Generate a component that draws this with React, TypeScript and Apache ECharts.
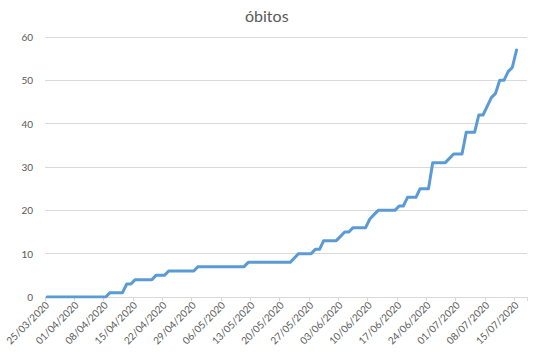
import React, { useEffect, useRef } from "react";
import * as echarts from "echarts";

const titleText = "óbitos";

const dates: string[] = [
  "25/03/2020", "26/03/2020", "27/03/2020", "28/03/2020", "29/03/2020", "30/03/2020", "31/03/2020",
  "01/04/2020", "02/04/2020", "03/04/2020", "04/04/2020", "05/04/2020", "06/04/2020", "07/04/2020",
  "08/04/2020", "09/04/2020", "10/04/2020", "11/04/2020", "12/04/2020", "13/04/2020", "14/04/2020",
  "15/04/2020", "16/04/2020", "17/04/2020", "18/04/2020", "19/04/2020", "20/04/2020", "21/04/2020",
  "22/04/2020", "23/04/2020", "24/04/2020", "25/04/2020", "26/04/2020", "27/04/2020", "28/04/2020",
  "29/04/2020", "30/04/2020", "01/05/2020", "02/05/2020", "03/05/2020", "04/05/2020", "05/05/2020",
  "06/05/2020", "07/05/2020", "08/05/2020", "09/05/2020", "10/05/2020", "11/05/2020", "12/05/2020",
  "13/05/2020", "14/05/2020", "15/05/2020", "16/05/2020", "17/05/2020", "18/05/2020", "19/05/2020",
  "20/05/2020", "21/05/2020", "22/05/2020", "23/05/2020", "24/05/2020", "25/05/2020", "26/05/2020",
  "27/05/2020", "28/05/2020", "29/05/2020", "30/05/2020", "31/05/2020", "01/06/2020", "02/06/2020",
  "03/06/2020", "04/06/2020", "05/06/2020", "06/06/2020", "07/06/2020", "08/06/2020", "09/06/2020",
  "10/06/2020", "11/06/2020", "12/06/2020", "13/06/2020", "14/06/2020", "15/06/2020", "16/06/2020",
  "17/06/2020", "18/06/2020", "19/06/2020", "20/06/2020", "21/06/2020", "22/06/2020", "23/06/2020",
  "24/06/2020", "25/06/2020", "26/06/2020", "27/06/2020", "28/06/2020", "29/06/2020", "30/06/2020",
  "01/07/2020", "02/07/2020", "03/07/2020", "04/07/2020", "05/07/2020", "06/07/2020", "07/07/2020",
  "08/07/2020", "09/07/2020", "10/07/2020", "11/07/2020", "12/07/2020", "13/07/2020", "14/07/2020",
  "15/07/2020", "16/07/2020", "17/07/2020",
];

const obitos: number[] = [
  0, 0, 0, 0, 0, 0, 0,
  0, 0, 0, 0, 0, 0, 0,
  0, 1, 1, 1, 1, 3, 3,
  4, 4, 4, 4, 4, 5, 5,
  5, 6, 6, 6, 6, 6, 6,
  6, 7, 7, 7, 7, 7, 7,
  7, 7, 7, 7, 7, 7, 8,
  8, 8, 8, 8, 8, 8, 8,
  8, 8, 8, 9, 10, 10, 10,
  10, 11, 11, 13, 13, 13, 13,
  14, 15, 15, 16, 16, 16, 16,
  18, 19, 20, 20, 20, 20, 20,
  21, 21, 23, 23, 23, 25, 25,
  25, 31, 31, 31, 31, 32, 33,
  33, 33, 38, 38, 38, 42, 42,
  44, 46, 47, 50, 50, 52, 53,
  57,
];

const yTicks = { min: 0, max: 60, interval: 10 };

export default function App() {
  const ref = useRef<HTMLDivElement>(null);
  useEffect(() => {
    if (!ref.current) return;
    const chart = echarts.init(ref.current, null, { renderer: "svg" });
    const font = "Lato, 'Open Sans', sans-serif";
    chart.setOption({
      animation: false,
      backgroundColor: "#ffffff",
      title: {
        text: titleText,
        left: 240,
        top: 2,
        textStyle: { color: "#595959", fontSize: 16, fontWeight: "normal", fontFamily: font },
      },
      grid: { left: 45, right: 12, top: 37, bottom: 59, containLabel: false },
      xAxis: {
        type: "category",
        data: dates,
        boundaryGap: true,
        axisLine: { show: true, lineStyle: { color: "#d9d9d9", width: 1 } },
        axisTick: { show: true, interval: 6, alignWithLabel: false, length: 4, lineStyle: { color: "#d9d9d9" } },
        axisLabel: {
          interval: 6,
          rotate: 45,
          margin: 6,
          color: "#595959",
          fontSize: 10,
          fontFamily: font,
        },
        splitLine: { show: false },
      },
      yAxis: {
        type: "value",
        min: yTicks.min,
        max: yTicks.max,
        interval: yTicks.interval,
        axisLine: { show: false },
        axisTick: { show: false },
        axisLabel: { color: "#595959", fontSize: 10, fontFamily: font, margin: 12 },
        splitLine: { show: true, lineStyle: { color: "#d9d9d9", width: 1 } },
      },
      series: [
        {
          type: "line",
          data: obitos,
          showSymbol: false,
          symbol: "none",
          lineStyle: { color: "#5B9BD5", width: 3, join: "round", cap: "round" },
          itemStyle: { color: "#5B9BD5" },
        },
      ],
    });
    return () => chart.dispose();
  }, []);
  return (
    <div
      ref={ref}
      style={{ position: "fixed", left: 0, top: 0, width: 539, height: 356, background: "#fff" }}
    />
  );
}
